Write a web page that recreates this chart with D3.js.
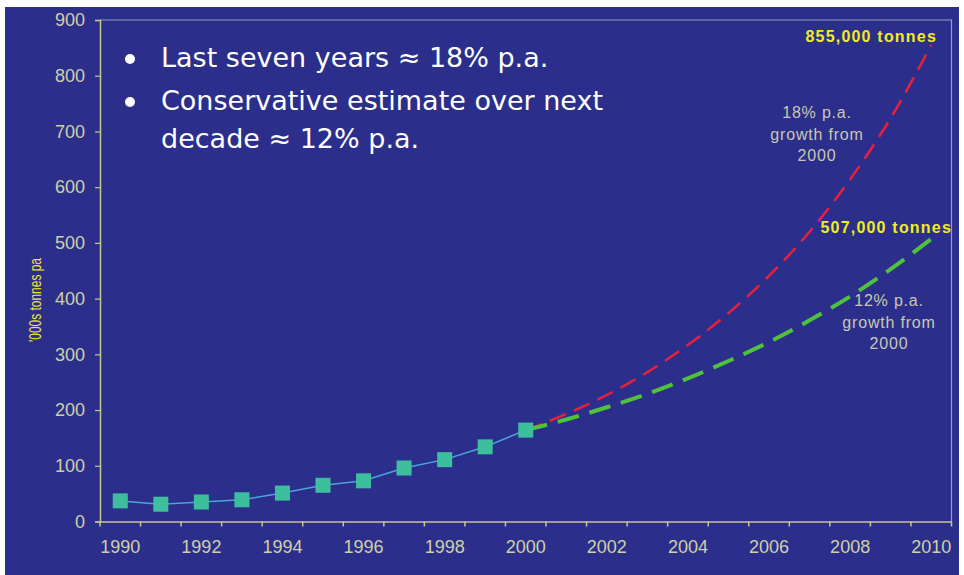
<!DOCTYPE html>
<html>
<head>
<meta charset="utf-8">
<script src="https://cdn.jsdelivr.net/npm/d3@7"></script>
<style>
  body { margin: 0; background: #fff; }
  svg { display: block; }
</style>
</head>
<body>
<svg width="964" height="575"></svg>
<script>
// data
const years = [1990, 1991, 1992, 1993, 1994, 1995, 1996, 1997, 1998, 1999, 2000,
               2001, 2002, 2003, 2004, 2005, 2006, 2007, 2008, 2009, 2010];
const actualYears = [1990, 1991, 1992, 1993, 1994, 1995, 1996, 1997, 1998, 1999, 2000];
const actual = [37, 31, 35, 39, 51, 65, 73, 96, 111, 134, 164];
const projYears = [2000, 2001, 2002, 2003, 2004, 2005, 2006, 2007, 2008, 2009, 2010];
const growth18 = [164, 193, 227, 268, 317, 374, 441, 520, 614, 724, 855];
const growth12 = [164, 183, 205, 229, 257, 288, 322, 361, 404, 453, 507];
const yTicks = [0, 100, 200, 300, 400, 500, 600, 700, 800, 900];
const bullets = [
  ["Last seven years \u2248 18% p.a."],
  ["Conservative estimate over next", "decade \u2248 12% p.a."]
];

const svg = d3.select("svg");
const plotL = 100, plotR = 951.5, plotT = 20, plotB = 521.5;

// slide background
svg.append("rect")
  .attr("x", 5).attr("y", 7).attr("width", 954).attr("height", 568)
  .attr("fill", "#2b2f8b");

const x = d3.scaleBand().domain(years).range([plotL, plotR]).padding(0);
const y = d3.scaleLinear().domain([0, 900]).range([plotB, plotT]);
const cx = d => x(d) + x.bandwidth() / 2;

// frame top / right
svg.append("path")
  .attr("d", `M${plotL},${plotT}H${plotR}V${plotB}`)
  .attr("fill", "none")
  .attr("stroke", "#9a9cc4")
  .attr("stroke-width", 1.2);

// y axis
const yAxis = svg.append("g")
  .attr("transform", `translate(${plotL},0)`)
  .call(d3.axisLeft(y).tickValues(yTicks).tickSize(5).tickPadding(10));
yAxis.select(".domain").attr("stroke", "#c8c88c").attr("stroke-width", 1.5);
yAxis.selectAll(".tick line").attr("stroke", "#c8c88c").attr("stroke-width", 1.2);
yAxis.selectAll(".tick text")
  .attr("fill", "#cfcfa8")
  .style("font-family", "Liberation Sans, Arial, sans-serif")
  .style("font-size", "18px");

// x axis: labels in band centres, ticks at band edges
const xAxis = svg.append("g")
  .attr("transform", `translate(0,${plotB})`)
  .call(d3.axisBottom(x).tickSize(0).tickPadding(19)
    .tickFormat(d => d % 2 === 0 ? d : ""));
xAxis.select(".domain").attr("stroke", "#c8c88c").attr("stroke-width", 1.5);
xAxis.selectAll(".tick text")
  .attr("fill", "#cfcfa8")
  .style("font-family", "Liberation Sans, Arial, sans-serif")
  .style("font-size", "18px");
xAxis.selectAll(".edge")
  .data(years.concat([null]))
  .enter().append("line")
  .attr("x1", d => d === null ? plotR : x(d))
  .attr("x2", d => d === null ? plotR : x(d))
  .attr("y1", 0).attr("y2", 5)
  .attr("stroke", "#c8c88c").attr("stroke-width", 1.5);

// y axis title
svg.append("text")
  .attr("transform", "translate(41,300) rotate(-90)")
  .attr("text-anchor", "middle")
  .attr("fill", "#f0e830")
  .attr("textLength", 84)
  .attr("lengthAdjust", "spacingAndGlyphs")
  .style("font-family", "Liberation Sans Narrow, Liberation Sans, Arial, sans-serif")
  .style("font-size", "17px")
  .text("'000s tonnes pa");

// projections
const line = d3.line().x((d, i) => cx(projYears[i])).y(d => y(d)).curve(d3.curveMonotoneX);
svg.append("path")
  .datum(growth18)
  .attr("d", line)
  .attr("fill", "none")
  .attr("stroke", "#e8203c")
  .attr("stroke-width", 2.5)
  .attr("stroke-dasharray", "17,9");
svg.append("path")
  .datum(growth12)
  .attr("d", line)
  .attr("fill", "none")
  .attr("stroke", "#4fc23c")
  .attr("stroke-width", 4)
  .attr("stroke-dasharray", "22,11");

// actual series
const lineA = d3.line().x((d, i) => cx(actualYears[i])).y(d => y(d));
svg.append("path")
  .datum(actual)
  .attr("d", lineA)
  .attr("fill", "none")
  .attr("stroke", "#4aa6d8")
  .attr("stroke-width", 1.5);
svg.selectAll(".pt")
  .data(actual)
  .enter().append("rect")
  .attr("class", "pt")
  .attr("x", (d, i) => cx(actualYears[i]) - 7.5)
  .attr("y", d => y(d) - 7.5)
  .attr("width", 15).attr("height", 15)
  .attr("fill", "#3dbf9e");

// bullet text
const bulletY = [67, 110];
bullets.forEach((lines, i) => {
  svg.append("circle")
    .attr("cx", 130).attr("cy", bulletY[i] - 8).attr("r", 5)
    .attr("fill", "#fff");
  lines.forEach((t, j) => {
    svg.append("text")
      .attr("x", 161).attr("y", bulletY[i] + j * 38)
      .attr("fill", "#fff")
      .style("font-family", "DejaVu Sans, Verdana, sans-serif")
      .style("font-size", "27px")
      .text(t);
  });
});

// end value labels
const endLabel = (txt, xr, yb) => svg.append("text")
  .attr("x", xr).attr("y", yb)
  .attr("text-anchor", "end")
  .attr("fill", "#f2ec1c")
  .style("font-family", "Liberation Sans, Arial, sans-serif")
  .style("font-weight", "bold")
  .style("font-size", "16px")
  .style("letter-spacing", "1.2px")
  .text(txt);
endLabel("855,000 tonnes", 937, 42);
endLabel("507,000 tonnes", 952, 233);

// growth notes
const note = (lines, xc, yb) => lines.forEach((t, j) => svg.append("text")
  .attr("x", xc).attr("y", yb + j * 21.5)
  .attr("text-anchor", "middle")
  .attr("fill", "#c8c8b0")
  .style("font-family", "Liberation Sans, Arial, sans-serif")
  .style("font-size", "16px")
  .style("letter-spacing", "0.8px")
  .text(t));
note(["18% p.a.", "growth from", "2000"], 817, 118);
note(["12% p.a.", "growth from", "2000"], 889, 306);
</script>
</body>
</html>
